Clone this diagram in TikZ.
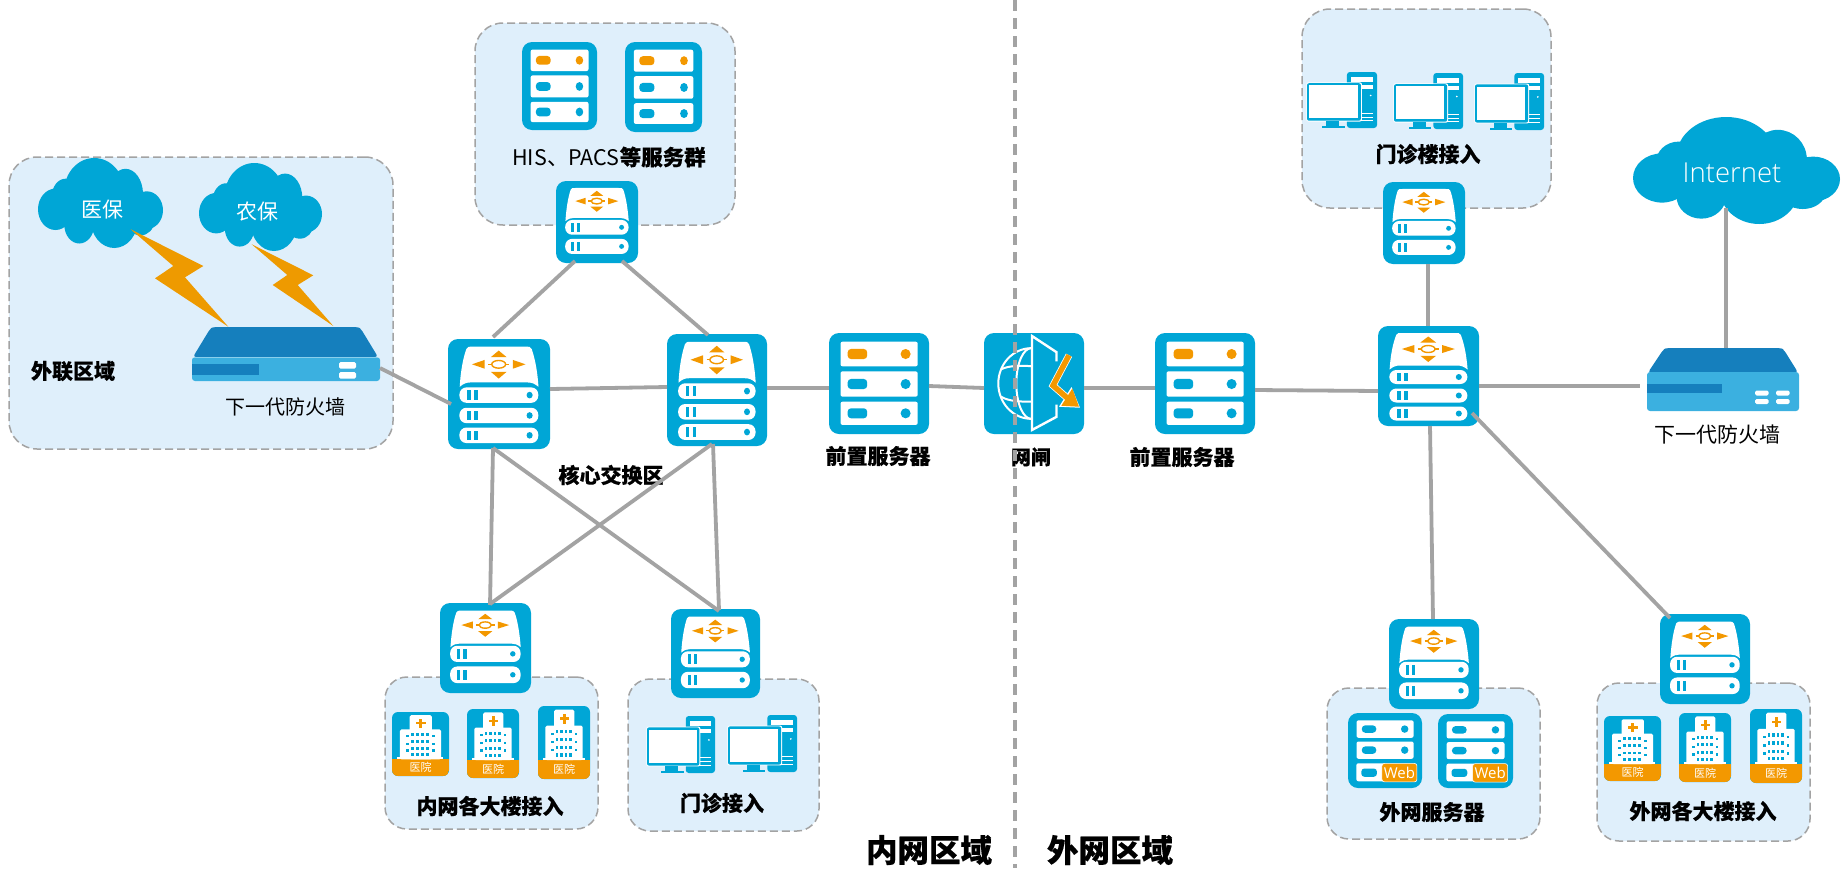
\documentclass[tikz,border=0pt]{standalone}
\usepackage{fontspec}
\newfontfamily\cjk[BoldFeatures={FakeBold=0.4}]{Noto Sans CJK SC}
\newfontfamily\latl[UprightFont={* Light}]{Open Sans}
\newfontfamily\latr{Open Sans}
\usetikzlibrary{calc}
\definecolor{blu}{HTML}{00A6D6}
\definecolor{org}{HTML}{F39800}
\definecolor{bolt}{HTML}{EE9A00}
\definecolor{reg}{HTML}{DFEFFB}
\definecolor{gry}{HTML}{A3A3A3}
\definecolor{fwd}{HTML}{157FBD}
\definecolor{fwl}{HTML}{3BB0E0}
\tikzset{
  region/.style={fill=reg,draw=gry,line width=1.5pt,dash pattern=on 8pt off 4pt,rounded corners=28pt},
  regionsm/.style={region,rounded corners=22pt},
  devbg/.style={fill=blu,rounded corners=10pt},
  hospbg/.style={fill=blu,rounded corners=6pt},
  link/.style={draw=gry,line width=3.8pt},
  lab/.style={font=\cjk\fontsize{20}{20}\selectfont,text=black,inner sep=0pt},
  labb/.style={font=\cjk\bfseries\fontsize{20}{20}\selectfont,text=black,inner sep=0pt},
  labc/.style={font=\cjk\bfseries\fontsize{21}{21}\selectfont,text=black,inner sep=0pt},
  bigl/.style={font=\cjk\bfseries\fontsize{31.5}{32}\selectfont,text=black,inner sep=0pt},
  cloudt/.style={text=white,inner sep=0pt},
}
\newcommand\boxnode[6][]{\node[inner sep=0pt,outer sep=0pt,minimum width={#5pt-#3pt},minimum height={#6pt-#4pt},#1] (#2) at ({(#3+#5)/2},{(#4+#6)/2}) {};}
\newcommand\inbox[5]{\begin{scope}[shift={(#1,#2)},xscale={(#3-#1)/100},yscale={(#4-#2)/100}]#5\end{scope}}
% switch pieces
\newcommand\swarrows[1]{%
  \fill[org] (23.5,#1) -- (36,#1-4) -- (36,#1+4) -- cycle;
  \fill[org] (76,#1) -- (63.5,#1-4) -- (63.5,#1+4) -- cycle;
  \fill[org] (49.7,#1-12.5) -- (42,#1-6.5) -- (57.5,#1-6.5) -- cycle;
  \fill[org] (49.7,#1+13) -- (42,#1+6.8) -- (57.5,#1+6.8) -- cycle;
  \draw[org,line width=1.2pt] (39.5,#1) -- (60,#1);
  \draw[org,fill=white,line width=1.4pt] (49.7,#1) circle [x radius=6.8,y radius=3.5];
}
\newcommand\swdome[3]{\fill[white] (11.5,#1+2) .. controls (12.5,#1-14) and (15,#2+10) .. (18,#2+2) .. controls (19,#2) and (20,#2) .. (24,#2) -- (76,#2) .. controls (80,#2) and (81,#2) .. (82,#2+2) .. controls (85,#2+10) and (87.5,#1-14) .. (88.7,#1+2) .. controls (85,#1-1) and (82,#1-2) .. (78,#1-2) -- (22,#1-2) .. controls (18,#1-2) and (15,#1-1) .. (11.5,#1+2) -- cycle;\swarrows{#3}}
\newcommand\swpill[2]{%
  \fill[white,rounded corners=7pt] (11.2,#1) rectangle (88.5,#2);
  \fill[blu] (18.8,#1+0.2*#2-0.2*#1) rectangle (22.4,#2-0.2*#2+0.2*#1);
  \fill[blu] (25.7,#1+0.2*#2-0.2*#1) rectangle (29.3,#2-0.2*#2+0.2*#1);
  \fill[blu] (80,{(#1+#2)/2}) circle [x radius=3,y radius=3];
}
\newcommand\swtwo[5]{\boxnode[devbg]{#1}{#2}{#3}{#4}{#5}\inbox{#2}{#3}{#4}{#5}{\swdome{47}{8.5}{24.5}\swpill{47.5}{65.5}\swpill{70.5}{89}}}
\newcommand\swthree[5]{\boxnode[devbg]{#1}{#2}{#3}{#4}{#5}\inbox{#2}{#3}{#4}{#5}{\swdome{41.5}{7}{23}\swpill{44}{58}\swpill{62.5}{76.5}\swpill{80.5}{94.6}}}
% server
\newcommand\srvrow[3]{%
  \fill[white,rounded corners=2pt] (11.5,#1) rectangle (88.7,#2);
  \fill[#3,rounded corners=3.5pt] (18.6,{(#1+#2)/2-5}) rectangle (38.2,{(#1+#2)/2+5});
  \fill[#3] (76.6,{(#1+#2)/2}) circle [x radius=5,y radius=5];
}
\newcommand\server[5]{\boxnode[devbg]{#1}{#2}{#3}{#4}{#5}\inbox{#2}{#3}{#4}{#5}{\srvrow{8.6}{33}{org}\srvrow{38}{63}{blu}\srvrow{68}{91}{blu}}}
\newcommand\webserver[5]{\boxnode[devbg]{#1}{#2}{#3}{#4}{#5}\inbox{#2}{#3}{#4}{#5}{\srvrow{9.8}{33}{blu}\srvrow{38}{61}{blu}%
  \fill[white,rounded corners=2pt] (11.3,67) rectangle (50,91);
  \fill[blu,rounded corners=3pt] (18,74) rectangle (39,85);
  \node[fill=org,draw=white,line width=0.6pt,rounded corners=2.5pt,inner sep=0pt,minimum width=35pt,minimum height=18.5pt,text=white,font=\latr\fontsize{15}{16}\selectfont] (#1web) at (69.5,79.5) {Web};}}
% hospital
\newcommand\hosp[5]{\boxnode[hospbg]{#1}{#2}{#3}{#4}{#5}\inbox{#2}{#3}{#4}{#5}{%
  \begin{scope}\clip[rounded corners=6pt] (0,0) rectangle (100,100);\fill[org] (0,74) rectangle (100,100);\end{scope}
  \fill[white,rounded corners=1.5pt] (31,5) rectangle (70,74);
  \fill[white,rounded corners=1.5pt] (14,27) rectangle (86,74);
  \fill[white] (9,71) rectangle (90,74);
  \fill[org] (41.5,15.7) rectangle (59.5,19.5);
  \fill[org] (47.8,10.5) rectangle (53.2,24.5);
  \foreach \yy in {35,46,57,67}{\foreach \xx in {36.5,45.5,54,63}{\fill[blu] (\xx-2.6,\yy-2.2) rectangle (\xx+2.6,\yy+2.2);}}
  \foreach \yy in {38,49.5,60}{\foreach \xx in {27,73}{\fill[blu] (\xx-2.8,\yy-1.7) rectangle (\xx+2.8,\yy+1.7);}}
  \node[text=white,inner sep=0pt,font=\cjk\fontsize{11}{11}\selectfont] (#1t) at (50,87) {医院};}}
% pc
\newcommand\pc[5]{\boxnode{#1}{#2}{#3}{#4}{#5}\inbox{#2}{#3}{#4}{#5}{%
  \fill[blu,rounded corners=3pt] (57,0) rectangle (100,100);
  \fill[white] (63,9) rectangle (94,18);
  \fill[white] (63,23) rectangle (94,30);
  \fill[white] (91,42) circle [x radius=1.4,y radius=1.6];
  \foreach \yy in {73,80,86}{\draw[white,line width=0.5pt] (76,\yy) -- (94,\yy);}
  \fill[white,rounded corners=2pt] (-1,18.5) rectangle (78.5,88.5);
  \fill[blu,rounded corners=2pt] (0,20) rectangle (77,87);
  \fill[white] (3,24) rectangle (73,82);
  \fill[blu] (27,87) rectangle (46,97);
  \fill[blu] (21,97) rectangle (54,100);}}
% cloud
\newcommand\cloudb[5]{\boxnode{#1}{#2}{#3}{#4}{#5}\inbox{#2}{#3}{#4}{#5}{%
  \fill[blu] (14,57) circle [x radius=14,y radius=23];
  \fill[blu] (22,43) circle [x radius=11,y radius=20];
  \fill[blu] (45,37) circle [x radius=24,y radius=37];
  \fill[blu] (70,40) circle [x radius=14,y radius=28];
  \fill[blu] (87,58) circle [x radius=13,y radius=21];
  \fill[blu] (33,74) circle [x radius=12,y radius=21];
  \fill[blu] (61,68) circle [x radius=19,y radius=32];
  \fill[blu] (82,70) circle [x radius=11,y radius=16];
  \fill[blu] (50,52) circle [x radius=38,y radius=30];}}
\begin{document}
\begin{tikzpicture}[x=1pt,y=-1pt]
\useasboundingbox[fill=white] (0,0) rectangle (1841,868);
% regions
\boxnode[region]{rHis}{475}{23}{735}{225}
\boxnode[region]{rExt}{9}{157}{393}{449}
\boxnode[region]{rTop}{1302}{9}{1551}{208}
\boxnode[regionsm]{rIn}{385}{677}{598}{829}
\boxnode[regionsm]{rOp}{628}{679}{819}{831}
\boxnode[regionsm]{rWeb}{1327}{688}{1540}{839}
\boxnode[regionsm]{rOut}{1597}{683}{1810}{841}
% HIS
\server{sHis1}{522}{42}{597}{130}
\server{sHis2}{625}{42}{702}{132}
\node[lab,font=\cjk\fontsize{21.5}{22}\selectfont] (tHis) at (609,157) {HIS、PACS\bfseries 等服务群};
\swtwo{swHis}{556}{181}{638}{263}
% outer zone
\cloudb{cYb}{38}{158}{163}{248}
\node[cloudt,font=\cjk\fontsize{21}{21}\selectfont] (tYb) at (102,210) {医保};
\cloudb{cNb}{199}{163}{322}{251}
\node[cloudt,font=\cjk\fontsize{21}{21}\selectfont] (tNb) at (257,212) {农保};
\boxnode{fwL}{192}{327}{380}{381}
\fill[fwd,rounded corners=3pt] (193,357) -- (210,329) -- (213,327) -- (358,327) -- (361,329) -- (378,357) -- cycle;
\fill[fwl,rounded corners=3pt] (192,357) rectangle (380,381);
\draw[white,opacity=.4,line width=.7pt] (193,357.5) -- (379,357.5);
\fill[fwd] (192,364) rectangle (259,375);
\fill[white,rounded corners=1.5pt] (339,362) rectangle (356,368.5);
\fill[white,rounded corners=1.5pt] (339,372) rectangle (356,378.5);
\fill[bolt] (130.7,229.3) -- (203.3,266) -- (185,277.3) -- (228.3,326.7) -- (155,278.3) -- (173.3,266) -- cycle;
\fill[bolt] (251.7,244.3) -- (313.3,275.3) -- (297.7,285) -- (333.3,326) -- (272.7,285) -- (287.3,275) -- cycle;
\node[lab] (tFwL) at (285,407) {下一代防火墙};
\node[labc] (tExt) at (73,371) {外联区域};
% core
\swthree{coreL}{448}{339}{550}{449}
\swthree{coreR}{667}{334}{767}{446}
\node[labc] (tCore) at (611,475) {核心交换区};
\server{front1}{829}{333}{929}{434}
\node[labc] (tF1) at (878,456) {前置服务器};
% gate
\boxnode[devbg]{gate}{984}{333}{1084}{434}
\inbox{984}{333}{1084}{434}{%
  \begin{scope}\clip (0,0) rectangle (48,100);
    \draw[white,line width=2pt] (47.3,50) circle [x radius=33,y radius=35];
    \draw[white,line width=2pt] (47.3,50) circle [x radius=15,y radius=35];
    \draw[white,line width=2pt] (17,36) .. controls (25,32) and (38,32) .. (48,33);
    \draw[white,line width=2pt] (17,63) .. controls (25,68) and (38,68) .. (48,68);
  \end{scope}
  \draw[white,line width=2.4pt] (72.5,28) -- (72.5,19) -- (48,3) -- (48,96) -- (72.5,83) -- (72.5,71);
  \draw[white,line width=7pt] (85,22) -- (69,52) -- (84,65);
  \fill[white] (87.5,53.5) -- (96,74) -- (75,73) -- cycle;
  \draw[org,line width=5.5pt] (85,22) -- (69,52) -- (84,65);
  \fill[org] (88.3,55) -- (95,73) -- (77.3,72) -- cycle;
}
\node[labb] (tGate) at (1031,457) {网闸};
\server{front2}{1155}{333}{1255}{434}
\node[labc] (tF2) at (1182,457) {前置服务器};
% right
\swthree{swMain}{1378}{326}{1479}{426}
\pc{pcT1}{1307}{72}{1377}{128}
\pc{pcT2}{1394}{73}{1463}{129}
\pc{pcT3}{1475}{73}{1544}{130}
\node[labb,font=\cjk\bfseries\fontsize{21}{21}\selectfont] (tTop) at (1428,154) {门诊楼接入};
\swtwo{swTop}{1383}{182}{1465}{264}
\cloudb{internet}{1633}{117}{1840}{224}
\node[cloudt,font=\latl\fontsize{27.5}{28}\selectfont] (tInt) at (1732,173) {Internet};
\boxnode{fwR}{1647}{348}{1799}{411}
\fill[fwd,rounded corners=3pt] (1648,372.5) -- (1663,350) -- (1666,348) -- (1781,348) -- (1784,350) -- (1798,372.5) -- cycle;
\fill[fwl,rounded corners=3pt] (1647,372) rectangle (1799,411);
\fill[fwd] (1647,384) rectangle (1722,393);
\foreach \xx in {1755,1776}{\foreach \yy in {390.5,399}{\fill[white,rounded corners=1.5pt] (\xx,\yy) rectangle (\xx+13.5,\yy+5);}}
\node[lab,font=\cjk\fontsize{21}{21}\selectfont] (tFwR) at (1717,435) {下一代防火墙};
% bottom left
\swtwo{swIn}{440}{603}{531}{693}
\hosp{hI1}{392}{712}{449}{776}
\hosp{hI2}{467}{709}{519}{778}
\hosp{hI3}{538}{706}{590}{779}
\node[labc] (tIn) at (490,806) {内网各大楼接入};
\swtwo{swOp}{671}{609}{760}{698}
\pc{pcB1}{647}{716}{715}{773}
\pc{pcB2}{728}{715}{797}{772}
\node[labc] (tOp) at (722,803) {门诊接入};
% bottom right
\swtwo{swWeb}{1389}{619}{1479}{709}
\webserver{w1}{1348}{713}{1422}{788}
\webserver{w2}{1438}{714}{1513}{788}
\node[labc] (tWeb) at (1432,812) {外网服务器};
\swtwo{swExt}{1660}{614}{1750}{704}
\hosp{hO1}{1604}{716}{1661}{781}
\hosp{hO2}{1679}{713}{1731}{782}
\hosp{hO3}{1750}{709}{1802}{783}
\node[labc] (tOut) at (1703,811) {外网各大楼接入};
% connectors
\draw[link] ([xshift=19pt,yshift=2pt]swHis.south west) -- ([xshift=45pt,yshift=2pt]coreL.north west);
\draw[link] ([xshift=66pt,yshift=2pt]swHis.south west) -- ([xshift=41pt,yshift=-1pt]coreR.north west);
\draw[link] ([yshift=13pt]fwL.south east) -- ([xshift=3pt,yshift=-65pt]coreL.north west);
\draw[link] ([yshift=5pt]coreL.east) -- ([yshift=3pt]coreR.west);
\draw[link] ([yshift=2pt]coreR.east) -- ([yshift=-4.5pt]front1.west);
\draw[link] ([yshift=-2.5pt]front1.east) -- ([yshift=-4.5pt]gate.west);
\draw[link] ([yshift=-4.5pt]gate.east) -- ([yshift=-4.5pt]front2.west);
\draw[link] ([yshift=-6.5pt]front2.east) -- ([yshift=-15pt]swMain.west);
\draw[link] ([yshift=-10pt]swMain.east) -- ([xshift=-7pt,yshift=-6.5pt]fwR.west);
\draw[link] ([xshift=4pt]swTop.south) -- ([xshift=-.5pt]swMain.north);
\draw[link] ([xshift=-10.5pt,yshift=16pt]internet.south) -- ([xshift=3pt]fwR.north);
\draw[link] ([xshift=1.5pt]swMain.south) -- ([xshift=-1pt]swWeb.north);
\draw[link] ([xshift=-7pt,yshift=13pt]swMain.south east) -- ([xshift=10pt,yshift=-4pt]swExt.north west);
\draw[link] ([xshift=45pt,yshift=1pt]coreL.south west) -- ([xshift=50pt,yshift=-2pt]swIn.north west);
\draw[link] ([xshift=45pt,yshift=1pt]coreL.south west) -- ([xshift=48pt,yshift=-2pt]swOp.north west);
\draw[link] ([xshift=45pt,yshift=2pt]coreR.south west) -- ([xshift=50pt,yshift=-1pt]swIn.north west);
\draw[link] ([xshift=46pt,yshift=2pt]coreR.south west) -- ([xshift=48pt,yshift=-1pt]swOp.north west);
% divider
\coordinate (divT) at (1015,0);
\coordinate (divB) at (1015,868);
\draw[draw=gry,line width=4pt,dash pattern=on 11pt off 7pt] (divT) -- (divB);
\node[bigl] (tInner) at (929,850) {内网区域};
\node[bigl] (tOuter) at (1110,850) {外网区域};
\end{tikzpicture}
\end{document}
